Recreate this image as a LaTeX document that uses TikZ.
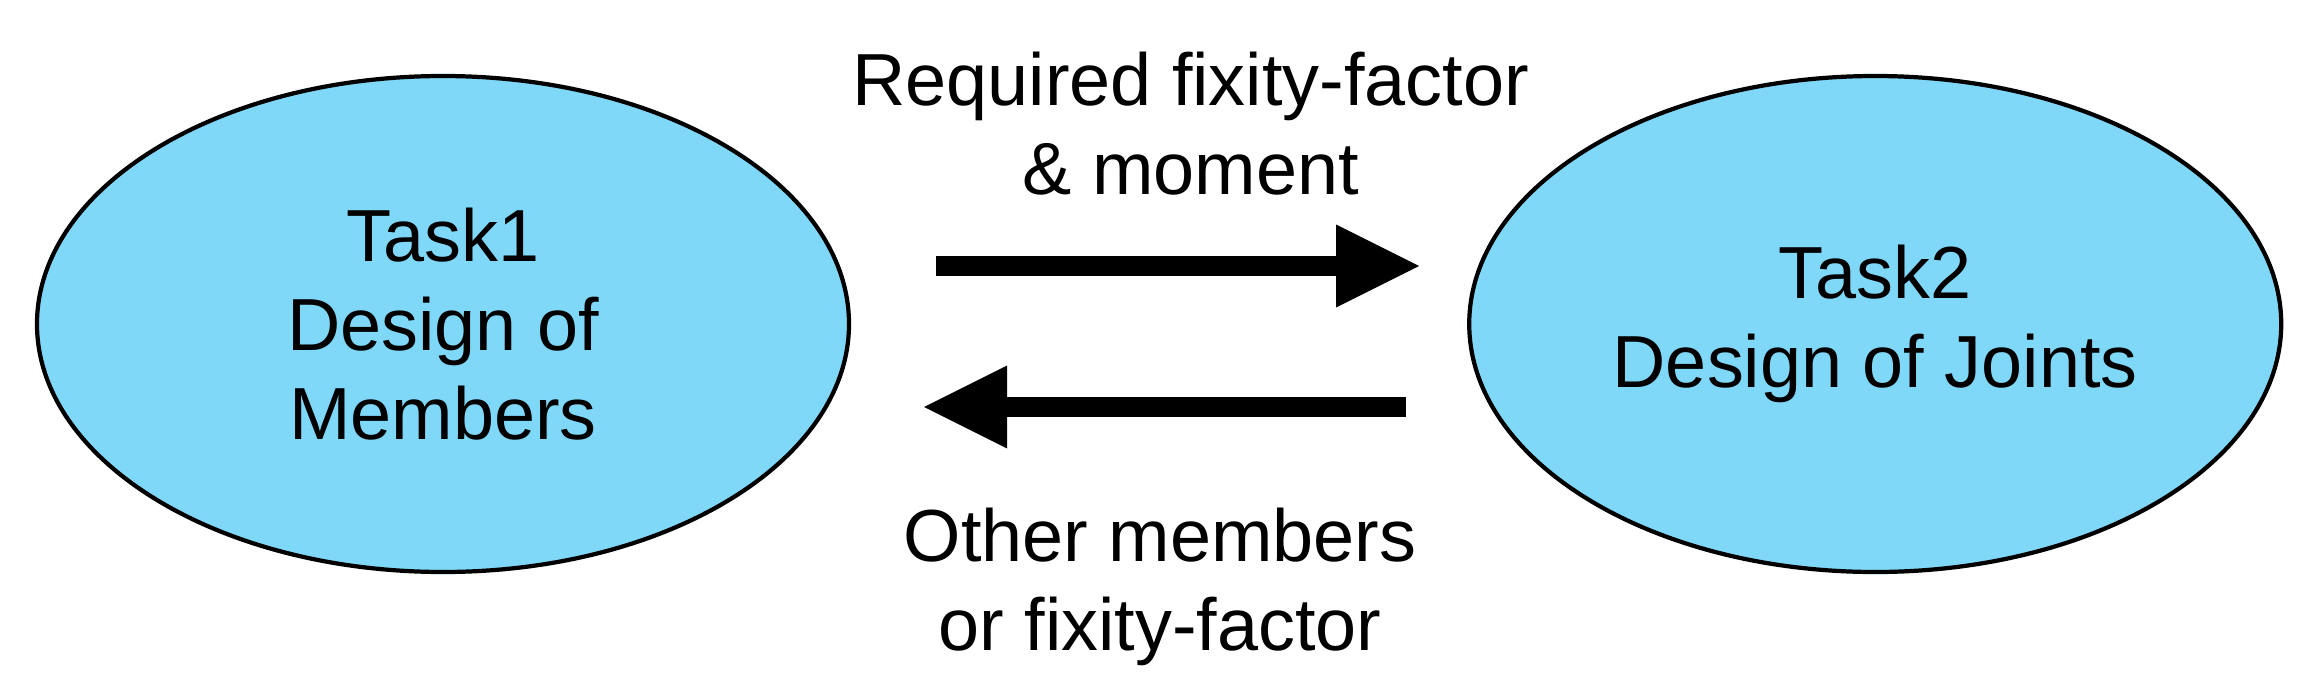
\documentclass[tikz,border=0pt]{standalone}
\usepackage{fontspec}
\setmainfont{Liberation Sans}
\usetikzlibrary{arrows.meta,positioning,shapes.geometric}
\definecolor{taskblue}{RGB}{128,216,248}
\newcommand{\taskfont}{\fontsize{21}{25.3}\selectfont}
\tikzset{
    %Define standard arrow tip
    >={Triangle[length=8.3mm, width=8.3mm, line width=0pt]},
    %Define style for tasks
    task/.style={
      ellipse,
      draw=black, line width=1.2pt,
      fill=taskblue,
      minimum width=81.2mm,
      minimum height=49.6mm,
      align=center,
      font=\taskfont},
    % Define arrow style
    arr/.style={
      ->,
      line width=2mm},
    % Define label style
    lbl/.style={
      align=center,
      inner sep=0pt,
      font=\taskfont}
}

\begin{document}
\begin{tikzpicture}
    \useasboundingbox (-44.3mm,-37.1mm) rectangle (188.1mm,32.4mm);

    \node[task] (task1) at (0,0) {Task1\\Design of\\Members};
    \node[task, right=61.6mm of task1] (task2) {Task2\\Design of Joints};

    \draw[arr] ([xshift=8.5mm, yshift=5.8mm]task1.east)
      -- ([xshift=-4.8mm, yshift=5.8mm]task2.west)
      node[lbl, midway, above=6.1mm, xshift=1.3mm] (req) {Required fixity-factor\\\& moment};
    \draw[arr] ([xshift=-6.1mm, yshift=-8.3mm]task2.west)
      -- ([xshift=7.3mm, yshift=-8.3mm]task1.east)
      node[lbl, midway, below=9.1mm, xshift=-0.5mm] (other) {Other members\\or fixity-factor};
\end{tikzpicture}
\end{document}
